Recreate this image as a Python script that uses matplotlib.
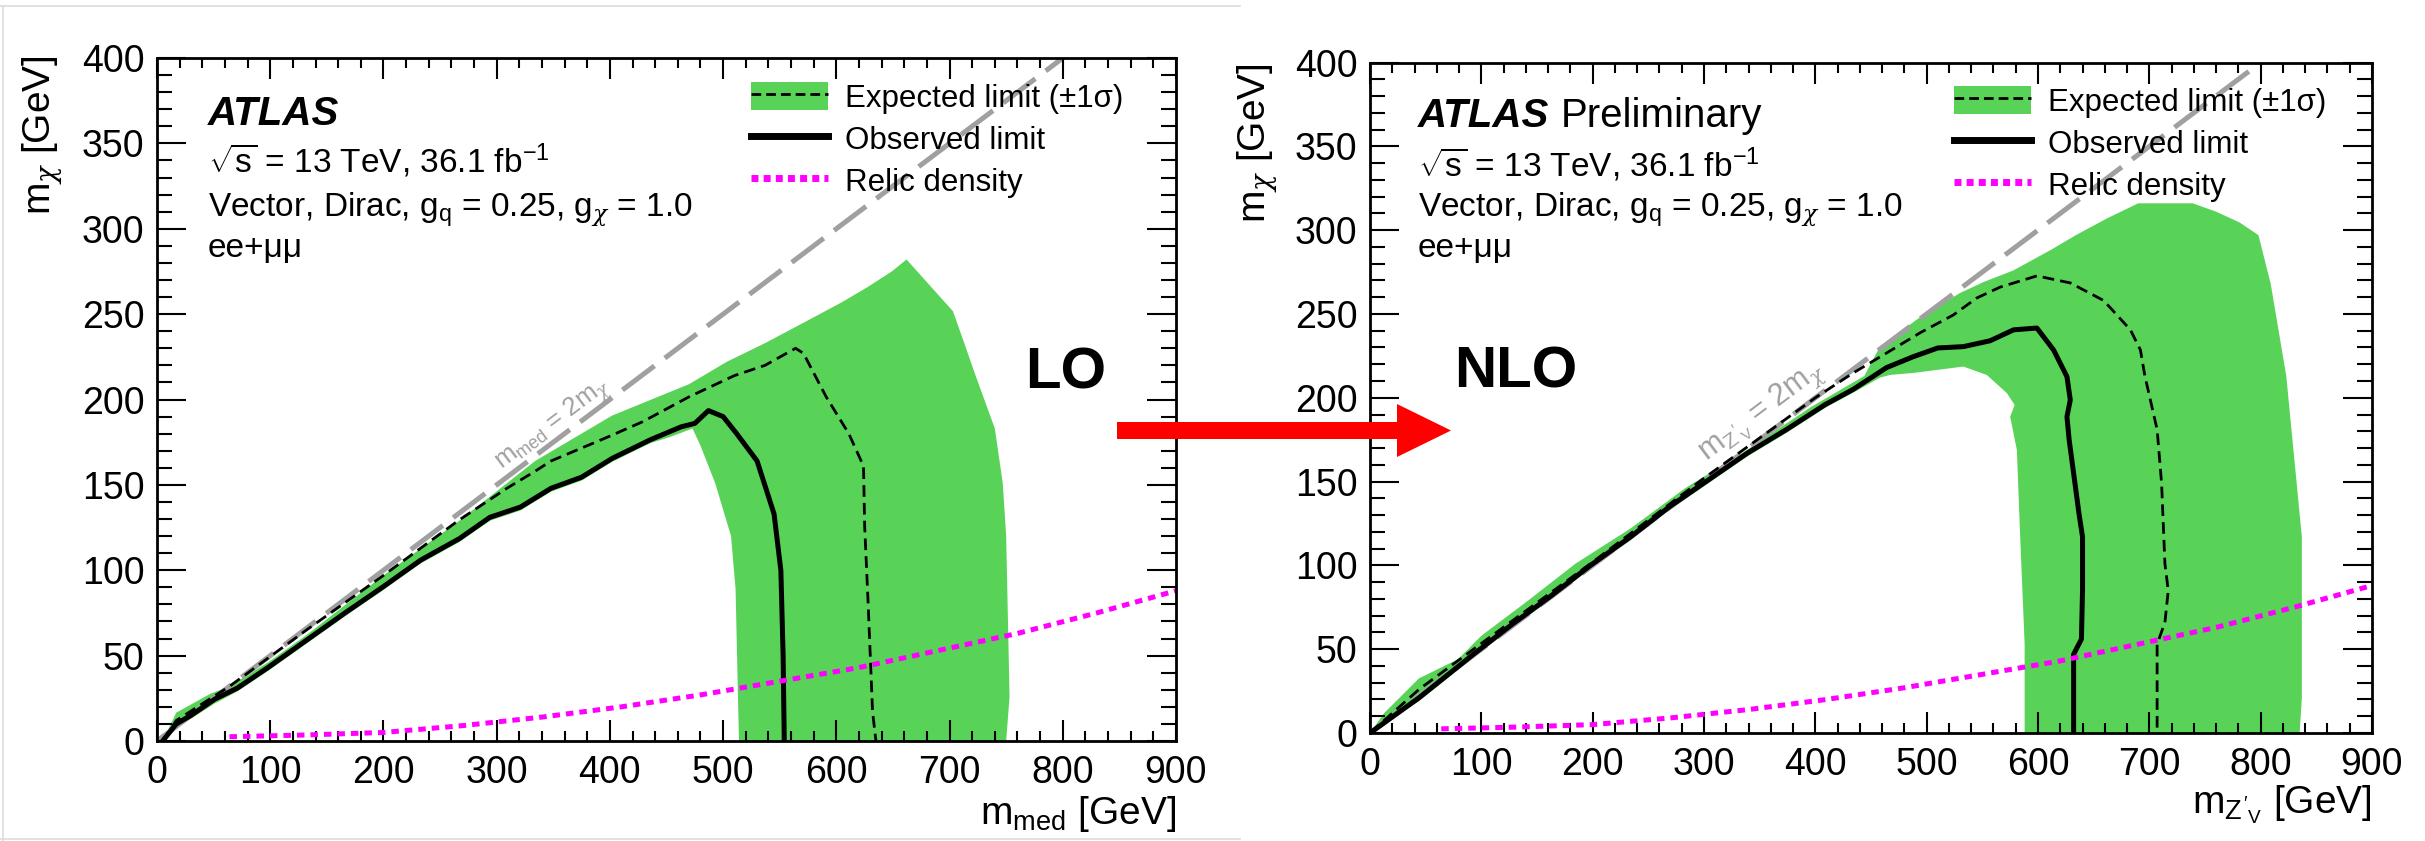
import numpy as np
import matplotlib
matplotlib.use("Agg")
import matplotlib.pyplot as plt
from matplotlib.patches import Patch, FancyArrow
from matplotlib.lines import Line2D
from matplotlib.ticker import MultipleLocator

plt.rcParams['font.family'] = ['Liberation Sans', 'DejaVu Sans']
plt.rcParams['mathtext.fontset'] = 'custom'
plt.rcParams['mathtext.rm'] = 'Liberation Sans'
plt.rcParams['mathtext.it'] = 'Liberation Sans'
plt.rcParams['mathtext.bf'] = 'Liberation Sans:bold'
plt.rcParams['mathtext.sf'] = 'DejaVu Serif:italic'   # used for the chi glyph

# ---- LO limits (m_med, m_chi) in GeV
lo_obs_x = [5, 17, 30, 51, 71, 98, 132, 166, 199, 233, 267, 294, 321, 348, 375, 402, 436, 463, 475, 487, 500, 512, 530, 545, 551, 553, 554]
lo_obs_y = [0, 10, 15, 24.5, 31, 43, 59, 75, 90, 106, 118.5, 131, 137, 148, 154.5, 165.5, 176.5, 184, 186, 193.5, 190, 180, 164, 133, 100, 50, 0]

lo_exp_x = [5, 17, 64, 132, 199, 267, 309, 334, 348, 398, 429, 470, 510, 537, 564, 571, 591, 611, 624, 625, 628, 632, 635]
lo_exp_y = [0, 12, 32, 65, 96.5, 129.5, 148, 158, 164, 178, 187, 201.6, 214, 220, 230, 227, 201.6, 180, 161, 126, 82, 17, 0]

lo_band_out_x = [5, 17, 47, 64, 98, 132, 199, 267, 334, 402, 470, 503, 537, 574, 605, 628, 649, 662, 703, 713, 723, 740, 747, 750, 753, 750]
lo_band_out_y = [0, 16.6, 27.6, 32, 46, 62, 96.5, 129, 164, 190.6, 209, 222, 233, 246, 257, 266, 275, 282, 251.7, 233, 214, 183, 151, 120, 26, 0]
lo_band_in_x = [5, 17, 30, 51, 71, 98, 132, 166, 199, 233, 267, 294, 321, 348, 375, 402, 436, 453, 473, 480, 493, 507, 511, 514]
lo_band_in_y = [0, 8, 13, 22, 29, 41, 57, 73, 88, 104, 116.5, 129, 135, 146, 152.5, 163.5, 174.5, 178, 183, 173, 151, 120, 89, 0]

# ---- NLO limits (m_Z'V, m_chi) in GeV
nlo_obs_x = [0, 44, 93, 128, 163, 198, 234, 269, 304, 339, 374, 409, 434, 464, 488, 510, 533, 557, 578, 599, 614, 626, 629, 626, 628, 637, 640, 640, 639, 632, 632]
nlo_obs_y = [0, 21, 47, 65, 82, 100, 117, 135, 151, 167, 181, 196, 205, 218, 224.5, 229.7, 230.5, 234, 240.5, 241.6, 228.5, 212.6, 198.7, 188.7, 174.8, 130, 117, 85, 56, 47, 0]

nlo_exp_x = [0, 44, 93, 200, 300, 400, 434, 464, 494, 524, 545, 566, 599, 629, 659, 683, 692, 696, 707, 711, 714, 717, 714, 707, 707]
nlo_exp_y = [0, 26, 50, 102, 152, 200, 214.8, 226.7, 238.7, 249.4, 259.5, 266, 272.7, 268.5, 258, 240.5, 228.5, 213, 181, 149, 101, 85, 66, 53, 0]

nlo_band_out_x = [0, 12.6, 44, 79, 100, 142, 184.5, 234, 283, 339, 395, 444, 458, 494, 530, 551, 578, 611, 634, 662, 690, 739, 760, 781, 798, 809, 823, 837, 837, 835]
nlo_band_out_y = [0, 11.8, 32.6, 44, 58, 79, 101, 122, 146, 169, 194, 213, 230.5, 248, 262.5, 269, 276, 288, 297, 307, 316, 316, 311, 304.6, 297, 268, 213, 117, 21, 0]
nlo_band_in_x = [0, 44, 93, 128, 163, 198, 234, 269, 304, 339, 374, 409, 434, 458, 467, 488, 533, 554, 572, 579, 575, 581, 584, 588, 588]
nlo_band_in_y = [0, 19, 45, 63, 80, 98, 115, 133, 149, 165, 179, 194, 203, 212, 213.6, 214.8, 218.6, 213.6, 202.8, 195.7, 188.7, 168.9, 117, 53, 0]

# relic density curve (same in both panels)
relic_x = [64, 130, 200, 270, 340, 410, 480, 550, 620, 690, 760, 830, 900]
relic_y = [2.5, 3.5, 5, 9, 14, 20, 27, 35, 43, 53, 63, 75, 88]

GREEN = '#58d358'
CHI = r'\mathsf{\chi}'
W, H = 2425, 841

fig = plt.figure(figsize=(W / 100, H / 100), dpi=100)


def px(x, y):
    return x / W, 1 - y / H


def make_axes(l, t, r, b):
    return fig.add_axes([l / W, 1 - b / H, (r - l) / W, (b - t) / H])


def draw_panel(ax, bo_x, bo_y, bi_x, bi_y, ex_x, ex_y, ob_x, ob_y, diag_text, diag_pos, diag_size):
    band_x = np.concatenate([bo_x, bi_x[::-1]])
    band_y = np.concatenate([bo_y, bi_y[::-1]])
    ax.fill(band_x, band_y, color=GREEN, lw=0, zorder=1)

    diag_x = np.array([0, 900])
    ax.plot(diag_x, diag_x / 2, color='#a0a0a0', lw=3.6, ls=(0, (8, 2.6)), zorder=1.5)
    ax.text(diag_pos[0], diag_pos[1], diag_text, color='#a0a0a0', fontsize=diag_size,
            ha='center', va='center', rotation=np.degrees(np.arctan(0.5)),
            transform_rotates_text=True, rotation_mode='anchor')

    ax.plot(ex_x, ex_y, color='k', lw=2, ls=(0, (4.2, 2.2)), zorder=2)
    ax.plot(ob_x, ob_y, color='k', lw=3.6, zorder=2.1)
    ax.plot(relic_x, relic_y, color='#ff00ff', lw=3.6, ls=(0, (1.5, 1.2)), zorder=2.2)

    ax.set_xlim(0, 900)
    ax.set_ylim(0, 400)
    ax.xaxis.set_major_locator(MultipleLocator(100))
    ax.xaxis.set_minor_locator(MultipleLocator(20))
    ax.yaxis.set_major_locator(MultipleLocator(50))
    ax.yaxis.set_minor_locator(MultipleLocator(10))
    ax.tick_params(axis='both', which='both', direction='in', top=True, right=True, width=1.5, labelsize=27)
    ax.tick_params(axis='x', which='major', length=15, pad=10)
    ax.tick_params(axis='x', which='minor', length=7.5)
    ax.tick_params(axis='y', which='major', length=21, pad=9)
    ax.tick_params(axis='y', which='minor', length=10.5)
    for s in ax.spines.values():
        s.set_linewidth(2)

    handles = [(Patch(facecolor=GREEN, lw=0), Line2D([], [], color='k', lw=2, ls=(0, (3.5, 1.8)))),
               Line2D([], [], color='k', lw=5),
               Line2D([], [], color='#ff00ff', lw=5, ls=(0, (1, 0.75)))]
    labels = [u'Expected limit (\u00b11\u03c3)', 'Observed limit', 'Relic density']
    ax.legend(handles, labels, loc='upper left', bbox_to_anchor=(0.583, 0.965),
              frameon=False, fontsize=22.5, borderpad=0, borderaxespad=0,
              handlelength=2.45, handleheight=1.0, handletextpad=0.55, labelspacing=0.33)


def atlas_block(ax, x, y_atlas, y_lines, prelim):
    t = fig.text(*px(x, y_atlas), 'ATLAS', fontsize=29, fontweight='bold', style='italic', va='baseline')
    if prelim:
        ax.annotate('Preliminary', xy=(1, 0), xycoords=t, xytext=(8, 0), textcoords='offset points',
                    fontsize=29, va='bottom', ha='left', annotation_clip=False)
    info = [r'$\sqrt{s}$ = 13 TeV, 36.1 fb$^{-1}$',
            r'Vector, Dirac, g$_{q}$ = 0.25, g$_{%s}$ = 1.0' % CHI,
            u'ee+\u03bc\u03bc']
    for yy, s in zip(y_lines, info):
        fig.text(*px(x, yy), s, fontsize=24, va='baseline')


# left: LO
ax1 = make_axes(157, 58, 1176, 741)
draw_panel(ax1, lo_band_out_x, lo_band_out_y, lo_band_in_x, lo_band_in_y,
           lo_exp_x, lo_exp_y, lo_obs_x, lo_obs_y,
           r'm$_{med}$ = 2m$_{%s}$' % CHI, (350, 185), 18.5)
atlas_block(ax1, 208, 125, [173, 217, 257], False)
fig.text(*px(43, 55), r'm$_{%s}$ [GeV]' % CHI, fontsize=28, rotation=90, ha='center', va='top')
fig.text(*px(1176, 824), r'm$_{med}$ [GeV]', fontsize=28, ha='right', va='baseline')

# right: NLO
ax2 = make_axes(1370, 62.5, 2372, 733)
draw_panel(ax2, nlo_band_out_x, nlo_band_out_y, nlo_band_in_x, nlo_band_in_y,
           nlo_exp_x, nlo_exp_y, nlo_obs_x, nlo_obs_y,
           r"m$_{Z'_{V}}$ = 2m$_{%s}$" % CHI, (352, 192), 22)
atlas_block(ax2, 1418, 127, [177, 217, 257], True)
fig.text(*px(1258, 63), r'm$_{%s}$ [GeV]' % CHI, fontsize=28, rotation=90, ha='center', va='top')
fig.text(*px(2372, 813), r"m$_{Z'_{V}}$ [GeV]", fontsize=28, ha='right', va='baseline')

# LO -> NLO annotation
fig.text(*px(1066, 373), 'LO', fontsize=42, fontweight='bold', ha='center', va='center')
fig.text(*px(1516, 372), 'NLO', fontsize=42, fontweight='bold', ha='center', va='center')
fig.add_artist(FancyArrow(11.17, (H - 430.5) / 100, 3.34, 0, width=0.17, head_width=0.53,
                          head_length=0.54, length_includes_head=True, color='#ff0000',
                          lw=0, transform=fig.dpi_scale_trans, zorder=5))

# faint frame of the left screenshot
for xs, ys in [([0, 1240], [6, 6]), ([3, 3], [6, 841]), ([0, 1240], [839, 839])]:
    fig.add_artist(Line2D([x / W for x in xs], [1 - y / H for y in ys], color='#dcdcdc', lw=1.2,
                          transform=fig.transFigure))

fig.savefig('out.png', dpi=100)
